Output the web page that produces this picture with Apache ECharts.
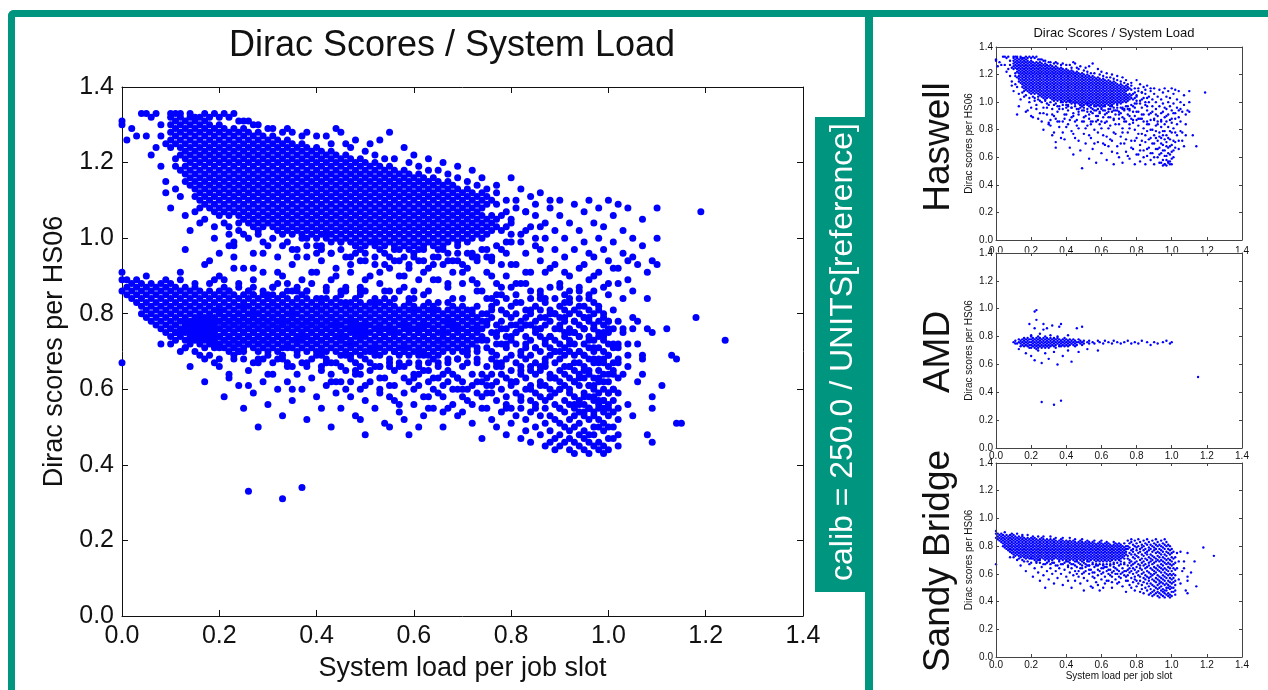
<!DOCTYPE html>
<html>
<head>
<meta charset="utf-8">
<script src="https://cdn.jsdelivr.net/npm/echarts@6.0.0/dist/echarts.min.js"></script>
<style>
  html, body { margin: 0; padding: 0; background: #fff; }
  #chart { width: 1268px; height: 690px; }
</style>
</head>
<body>
<div id="chart"></div>
<script>
// tick values shared by every axis (x and y)
const axisTicks = [0.0, 0.2, 0.4, 0.6, 0.8, 1.0, 1.2, 1.4];

// values are in hundredths; column rows are [x, y1, y2, ...], pair rows are [x, y]
const haswellCore = [
  [10,132,130,128,126,124],[11,133,131,129,127,125,121],[12,132,130,128,126,124,122,118],
  [13,131,129,127,125,123,121,119,115],[14,132,130,128,126,124,122,120,118,116,114],
  [15,131,129,127,125,123,121,119,117,115,113,111],[16,130,128,126,124,122,120,118,116,114,112,110],
  [17,131,129,127,125,123,121,119,117,115,113,111,109],[18,130,128,126,124,122,120,118,116,114,112,110,108],
  [19,129,127,125,123,121,119,117,115,113,111,109,107],[20,130,128,126,124,122,120,118,116,114,112,110,108,106],
  [21,129,127,125,123,121,119,117,115,113,111,109,107],[22,128,126,124,122,120,118,116,114,112,110,108,106],
  [23,129,127,125,123,121,119,117,115,113,111,109,107],[24,128,126,124,122,120,118,116,114,112,110,108,106,104],
  [25,129,127,125,123,121,119,117,115,113,111,109,107,105],[26,128,126,124,122,120,118,116,114,112,110,108,106,104],
  [27,127,125,123,121,119,117,115,113,111,109,107,105,103],[28,128,126,124,122,120,118,116,114,112,110,108,106,104],
  [29,127,125,123,121,119,117,115,113,111,109,107,105,103],[30,126,124,122,120,118,116,114,112,110,108,106,104],
  [31,127,125,123,121,119,117,115,113,111,109,107,105,103],[32,126,124,122,120,118,116,114,112,110,108,106,104,102],
  [33,125,123,121,119,117,115,113,111,109,107,105,103],[34,126,124,122,120,118,116,114,112,110,108,106,104,102],
  [35,125,123,121,119,117,115,113,111,109,107,105,103,101],[36,124,122,120,118,116,114,112,110,108,106,104,102],
  [37,125,123,121,119,117,115,113,111,109,107,105,103,101],[38,124,122,120,118,116,114,112,110,108,106,104,102,100],
  [39,123,121,119,117,115,113,111,109,107,105,103,101],[40,124,122,120,118,116,114,112,110,108,106,104,102,100],
  [41,123,121,119,117,115,113,111,109,107,105,103,101],[42,122,120,118,116,114,112,110,108,106,104,102,100],
  [43,123,121,119,117,115,113,111,109,107,105,103,101,99],[44,122,120,118,116,114,112,110,108,106,104,102,100],
  [45,121,119,117,115,113,111,109,107,105,103,101,99],[46,122,120,118,116,114,112,110,108,106,104,102,100],
  [47,121,119,117,115,113,111,109,107,105,103,101,99],[48,120,118,116,114,112,110,108,106,104,102,100,98],
  [49,121,119,117,115,113,111,109,107,105,103,101,99],[50,120,118,116,114,112,110,108,106,104,102,100,98],
  [51,119,117,115,113,111,109,107,105,103,101,99],[52,120,118,116,114,112,110,108,106,104,102,100,98],
  [53,119,117,115,113,111,109,107,105,103,101,99,97],[54,118,116,114,112,110,108,106,104,102,100,98],
  [55,119,117,115,113,111,109,107,105,103,101,99],[56,118,116,114,112,110,108,106,104,102,100,98],
  [57,117,115,113,111,109,107,105,103,101,99,97],[58,118,116,114,112,110,108,106,104,102,100,98],
  [59,117,115,113,111,109,107,105,103,101,99,97],[60,116,114,112,110,108,106,104,102,100,98],
  [61,117,115,113,111,109,107,105,103,101,99,97],[62,116,114,112,110,108,106,104,102,100,98],
  [63,115,113,111,109,107,105,103,101,99],[64,116,114,112,110,108,106,104,102,100,98],
  [65,115,113,111,109,107,105,103,101,99],[66,114,112,110,108,106,104,102,100,98],
  [67,115,113,111,109,107,105,103,101,99],[68,114,112,110,108,106,104,102,100],
  [69,113,111,109,107,105,103,101,99],[70,112,110,108,106,104,102,100],
  [71,113,111,109,107,105,103,101,99],[72,112,110,108,106,104,102,100],
  [73,111,109,107,105,103,101],[74,112,110,108,106,104,102,100],[75,111,109,105,103,101],
  [76,110,106,104,102],[77,109,105,103],[78,106,102],[79,107,103],[80,104]
];

const haswellScatter = [
  // above and left of the dense cloud
  [0,131],[0,130],[1,126],[2,129],[3,127],[4,133],[5,133],[6,132],[7,133],[6,122],[8,130],[8,127],[9,125],[9,112],
  [10,133],[11,119],[12,133],[12,91],[13,117],[14,133],[15,132],[16,108],[17,133],[18,132],[19,133],[21,133],[22,132],
  [23,133],[24,131],[26,131],[28,130],[31,129],[34,129],[38,128],[42,127],[44,129],[45,128],[48,126],[51,125],[53,126],
  [55,128],[58,124],[60,122],[63,121],[66,120],[69,119],[72,118],[74,116],[77,114],[80,116],[82,113],[84,111],[86,112],
  [88,110],[5,127],[7,124],[8,119],[9,115],[11,113],[12,111],[10,108],[13,106],[14,102],
  // ragged upper edge of the cloud
  [16,132],[20,132],[25,131],[27,130],[30,129],[33,128],[35,128],[37,127],[40,127],[43,125],[46,125],[47,124],
  [50,123],[52,122],[54,121],[56,121],[59,120],[61,119],[63,118],[65,118],[67,117],[69,116],[71,115],[73,114],
  [75,113],[77,112],[79,110],[81,108],[83,107],[85,106],
  // ragged lower edge of the cloud
  [15,107],[17,105],[19,103],[21,104],[22,101],[24,102],[26,100],[28,101],[29,99],[31,100],[33,98],[34,99],[36,97],
  [38,98],[40,96],[41,98],[43,96],[45,97],[47,95],[48,96],[50,94],[52,95],[54,93],[55,95],[57,94],[59,93],[60,95],
  [62,94],[64,93],[65,95],[67,94],[69,96],[70,93],[72,96],[73,95],[75,97],[76,94],[78,97],[79,99],[80,101],[82,99],
  [83,102],[85,100],[86,103],
  // between the two bands
  [13,97],[16,104],[17,93],[19,100],[20,96],[21,89],[22,103],[23,98],[25,92],[25,101],[26,86],[27,96],[28,102],[29,91],
  [30,98],[31,87],[32,95],[33,101],[33,90],[35,97],[35,93],[36,86],[37,100],[38,95],[39,91],[39,88],[40,98],[41,94],
  [42,101],[43,89],[43,96],[44,92],[45,99],[46,87],[46,95],[47,91],[48,98],[49,86],[49,94],[50,96],[51,90],[52,99],
  [52,93],[53,88],[54,96],[55,92],[55,86],[56,97],[57,90],[58,95],[58,87],[59,92],[60,96],[61,89],[61,94],[62,97],
  [63,86],[63,92],[64,95],[65,89],[65,97],[66,93],[67,87],[67,96],[68,91],[69,94],[69,98],[70,88],[71,92],[71,96],
  [72,89],[73,94],[74,97],[74,86],[75,91],[76,95],[77,88],[77,98],[78,93],[79,90],[79,96],
  [18,94],[20,90],[23,95],[24,88],[27,92],[29,96],[30,85],[32,91],[34,88],[36,95],[38,86],[40,91],[41,97],[44,90],
  [45,86],[47,93],[49,97],[50,89],[53,91],[54,86],[56,94],[58,90],[60,86],[62,91],[64,89],[66,97],[68,94],[70,91],
  [72,95],[73,88],[75,95],[76,90],[78,87],[80,93],[81,88],[83,91],[84,86],[86,97],[87,91],[88,87],[89,93],[91,91],
  [92,86],[94,92],[96,96],[97,90],[99,87],[101,92],[102,88],[104,94],
  // right of the cloud
  [80,99],[80,105],[81,110],[81,93],[82,101],[82,88],[83,107],[83,96],[84,91],[84,103],[85,109],[85,98],[86,94],
  [86,86],[87,104],[87,100],[88,108],[88,92],[89,97],[89,102],[90,88],[90,106],[90,110],[91,95],[91,100],[92,90],
  [92,104],[93,109],[93,97],[94,86],[94,102],[95,93],[95,107],[95,99],[96,110],[96,89],[97,104],[97,95],[98,100],
  [98,108],[98,91],[99,97],[99,103],[100,110],[100,88],[100,94],[101,106],[101,99],[102,92],[102,109],[103,96],
  [103,102],[104,89],[104,108],[105,95],[105,100],[106,93],[107,98],[107,105],[108,91],[109,94],[110,100],[110,108],
  [119,107],
  // lower tail
  [27,80],[30,84],[32,76],[34,71],[34,67],[36,82],[38,78],[39,73],[41,84],[42,67],[43,79],[44,62],[45,74],[47,81],
  [48,65],[49,52],[50,77],[51,70],[52,83],[53,59],[54,74],[55,66],[56,80],[57,56],[58,71],[59,84],[60,63],[61,76],
  [62,69],[63,58],[64,81],[65,73],[66,64],[67,55],[67,78],[68,84],[69,68],[70,60],[71,75],[72,81],[72,56],[73,70],
  [74,64],[75,78],[76,59],[76,84],[77,72],[78,66],[79,80],[79,55],[80,74],[81,62],[81,83],[82,69],[82,57],[83,77],
  [84,65],[84,81],[85,71],[85,55],[86,79],[86,61],[87,67],[87,84],[88,74],[88,58],[89,63],[89,80],[90,70],[90,55],
  [90,76],[91,66],[91,83],[92,60],[92,72],[93,78],[93,56],[93,67],[94,82],[94,63],[94,74],[95,58],[95,69],[95,79],
  [96,55],[96,65],[96,84],[97,71],[97,61],[97,76],[98,57],[98,67],[98,82],[99,62],[99,73],[99,55],[100,69],[100,78],
  [100,59],[101,65],[101,81],[102,71],[103,76],[104,66],[105,79],[106,72],[107,68],[108,76],[112,76],[110,93],
  [114,68],[94,56],[95,54],[96,55],[97,54],[98,56],[99,57],[100,55],[97,58],
  [31,83],[33,78],[35,86],[37,74],[40,82],[42,87],[44,77],[46,83],[47,72],[50,86],[51,81],[53,76],[54,84],[56,70],
  [57,86],[58,78],[60,81],[61,70],[62,85],[63,75],[64,68],[65,83],[66,72],[67,88],[68,77],[69,63],[70,84],[71,70],
  [72,78],[73,86],[74,73],[75,61],[76,81],[77,67],[78,85],[79,72],[80,62],[80,87],[81,77],[82,65],[83,72],[83,88],
  [84,60],[85,76],[86,66],[86,84],[87,73],[88,63],[88,80],[89,70],[90,87],[90,60],[91,74],[91,79],[92,66],[92,84],
  [93,62],[93,75],[94,70],[94,87],[95,65],[95,76],[96,61],[96,73],[96,79],[97,68],[97,86],[98,63],[98,74],[99,68],
  [99,79],[100,64],[100,85],[101,72],[101,60],[102,67],[102,78],[103,84],[104,72],[105,86],[106,78],[108,84]
];

const amdCore = [
  [10,76],[11,77,75],[12,75],[13,78,76],[14,77,75,73],[15,78,76,74],[16,79,77,75,73],[17,78,76,74],
  [18,79,77,75,73],[19,78,76,74,72],[20,80,78,76,74,72],[21,79,77,75,73],[22,78,76,74,72],[23,79,77,75,73,71],
  [24,80,78,76,74,72],[25,79,77,75,73],[26,78,76,74,72],[27,79,77,75,73],[28,80,78,76,74,72],[29,79,77,75,73],
  [30,78,76,74,72],[31,79,77,75,73],[32,78,76,74],[33,79,77,75,73],[34,78,76,74,72],[35,79,77,75],[36,78,76,74,73],
  [37,77,75,73],[38,78,76,74],[39,79,77,75,73],[40,78,76,74],[41,77,75,73],[42,78,76,74],[43,77,75],[44,78,76,74],
  [45,77,75,73],[46,76,74],[47,78,76],[48,77,75],[49,76,74],[50,77,75],[52,76],[53,77,75],[55,76],[56,75],[58,77],
  [59,76],[61,75],[62,77],[64,76],[66,75],[67,77],[69,76],[71,75],[73,76],[75,77],[77,75],[79,76],[81,75],[83,77],
  [86,76],[88,74],[90,76],[92,75],[95,76],[97,77],[99,75],[100,76]
];

const amdScatter = [
  [19,89],[22,98],[23,99],[23,92],[22,86],[27,89],[27,85],[29,86],[32,88],[36,87],[37,89],[46,86],[49,87],[20,81],
  [25,82],[31,81],[35,80],[41,81],[13,71],[17,68],[20,66],[22,63],[24,70],[26,61],[28,68],[30,64],[33,69],[35,60],
  [38,66],[41,70],[43,62],[47,69],[52,71],[58,70],[26,33],[33,31],[37,34],[115,51]
];

const sandyCore = [
  [0,91,89,86],[1,89,87,85],[2,88,86,84],[3,89,87,85,83],[4,88,86,84,82,80],[5,87,85,83,81,79],
  [6,88,86,84,82,80,78],[7,87,85,83,81,79,77],[8,88,86,84,82,80,78,76],[9,87,85,83,81,79,77,75],
  [10,88,86,84,82,80,78,76,74],[11,87,85,83,81,79,77,75,73],[12,86,84,82,80,78,76,74],
  [13,87,85,83,81,79,77,75,73],[14,86,84,82,80,78,76,74,72],[15,87,85,83,81,79,77,75,73],
  [16,86,84,82,80,78,76,74,72],[17,85,83,81,79,77,75,73,71],[18,86,84,82,80,78,76,74,72],
  [19,85,83,81,79,77,75,73,71],[20,86,84,82,80,78,76,74,72],[21,85,83,81,79,77,75,73,71],
  [22,86,84,82,80,78,76,74,72,70],[23,85,83,81,79,77,75,73,71],[24,84,82,80,78,76,74,72,70],
  [25,85,83,81,79,77,75,73,71],[26,86,84,82,80,78,76,74,72],[27,85,83,81,79,77,75,73,71],
  [28,84,82,80,78,76,74,72,70],[29,85,83,81,79,77,75,73,71],[30,84,82,80,78,76,74,72,70],
  [31,85,83,81,79,77,75,73,71],[32,84,82,80,78,76,74,72,70],[33,85,83,81,79,77,75,73,71],
  [34,84,82,80,78,76,74,72],[35,83,81,79,77,75,73,71],[36,84,82,80,78,76,74,72,70],
  [37,85,83,81,79,77,75,73,71],[38,84,82,80,78,76,74,72,70],[39,83,81,79,77,75,73,71],
  [40,84,82,80,78,76,74,72,70],[41,83,81,79,77,75,73,71,69],[42,84,82,80,78,76,74,72,70],
  [43,83,81,79,77,75,73,71],[44,84,82,80,78,76,74,72,70],[45,83,81,79,77,75,73,71,69],
  [46,82,80,78,76,74,72,70],[47,83,81,79,77,75,73,71],[48,84,82,80,78,76,74,72,70],
  [49,83,81,79,77,75,73,71,69],[50,82,80,78,76,74,72,70],[51,83,81,79,77,75,73,71],
  [52,82,80,78,76,74,72,70],[53,83,81,79,77,75,73,71,69],[54,82,80,78,76,74,72,70],
  [55,83,81,79,77,75,73,71],[56,82,80,78,76,74,72,70],[57,81,79,77,75,73,71,69],
  [58,82,80,78,76,74,72,70],[59,83,81,79,77,75,73,71],[60,82,80,78,76,74,72,70],
  [61,81,79,77,75,73,71,69],[62,82,80,78,76,74,72,70],[63,81,79,77,75,73,71],
  [64,82,80,78,76,74,72,70],[65,81,79,77,75,73,71,69],[66,80,78,76,74,72,70],
  [67,81,79,77,75,73,71],[68,82,80,78,76,74,72,70],[69,81,79,77,75,73,71],
  [70,80,78,76,74,72,70],[71,81,79,77,75,73,71],[72,80,78,76,74,72],[73,79,77,75,73,71],[74,80,78,76,74]
];

const sandyRight = [
  [75,84,80,78,73,71,66,63,59,55],[76,82,79,75,70,68,64,61,52],[77,85,83,77,74,69,66,62,57,50],
  [78,81,78,76,72,67,64,60,54],[79,84,80,74,71,68,63,58,56,48],[80,82,79,77,73,69,65,61,55,51],
  [81,85,80,75,72,67,62,59,53],[82,83,78,76,70,66,64,58,55,47],[83,81,79,74,71,68,63,60,52,49],
  [84,84,80,77,73,69,66,61,57,54,46],[85,82,78,75,71,67,64,59,56,50],[86,85,81,76,74,70,65,62,58,53,48],
  [87,83,79,77,72,68,66,61,57,55,51,45],[88,81,78,74,71,69,64,60,58,53,49,46],
  [89,84,80,76,73,70,67,63,59,56,52,47,44],[90,82,79,77,72,68,65,62,60,55,51,48,45],
  [91,85,81,78,75,71,69,64,61,57,54,50,46],[92,83,80,76,73,70,66,63,59,56,52,49,47,44],
  [93,81,78,75,72,69,65,62,58,55,53,50,46,43],[94,84,80,77,74,70,67,64,61,57,54,51,48,45],
  [95,82,79,76,72,69,66,63,59,56,53,49,47,44],[96,85,81,78,74,71,68,64,61,58,55,52,48,46,43],
  [97,83,80,76,73,70,67,63,60,57,53,50,48,45],[98,81,78,75,71,68,65,62,59,55,52,50,46,44],
  [99,80,77,74,70,67,64,60,57,54,51,49,45,43],[100,78,75,72,69,66,62,59,56,53,50,47,44],
  [101,76,71,67,64,60,57,54,50,47],[102,72,68,63,59,55,52,48,45]
];

const sandyScatter = [
  // ragged upper and lower edges of the band
  [5,90],[9,89],[12,89],[15,88],[18,88],[21,87],[24,87],[27,87],[31,87],[34,86],[38,86],[42,86],[45,85],[49,85],
  [52,84],[56,84],[60,84],[63,83],[67,83],[70,82],[73,82],
  [10,72],[13,71],[15,70],[18,69],[20,68],[23,69],[25,68],[27,67],[29,68],[31,67],[33,68],[35,66],[37,67],[39,68],
  [41,66],[43,67],[45,66],[47,68],[49,66],[51,67],[53,66],[55,67],[57,66],[59,67],[61,66],[63,67],[65,66],[67,67],
  [69,68],[71,67],[73,68],
  // below the band
  [0,67],[8,72],[12,70],[14,66],[16,69],[17,62],[19,67],[20,71],[21,58],[22,64],[23,68],[24,61],[25,55],[25,70],
  [26,65],[27,59],[28,50],[28,67],[29,62],[30,69],[30,56],[31,64],[32,60],[32,68],[33,53],[34,66],[34,62],[35,57],
  [36,69],[36,64],[37,60],[38,67],[38,52],[39,63],[40,58],[40,69],[41,65],[41,55],[42,61],[42,68],[43,50],[43,64],
  [44,59],[44,67],[45,62],[45,55],[46,69],[46,65],[47,58],[47,62],[48,67],[48,53],[49,64],[49,60],[50,68],[50,48],
  [50,57],[51,65],[51,62],[52,55],[52,69],[53,60],[53,66],[54,51],[54,63],[55,58],[55,68],[56,61],[56,65],[57,54],
  [57,67],[58,59],[58,63],[59,48],[59,69],[60,56],[60,64],[61,61],[61,67],[62,53],[62,58],[63,65],[63,69],[64,60],
  [64,55],[65,63],[65,67],[66,50],[66,58],[67,62],[67,68],[68,56],[68,64],[69,60],[69,53],[70,66],[70,62],[71,57],
  [71,69],[72,51],[72,64],[73,59],[73,67],[74,55],[74,62],[74,47],
  [46,60],[48,64],[50,61],[52,66],[53,63],[55,61],[56,57],[58,66],[59,62],[60,60],[61,64],[62,65],[63,62],[64,63],
  [65,59],[66,61],[67,65],[68,60],[69,63],[70,58],[71,60],[72,61],[73,62],[74,58],[66,54],[70,54],[63,55],[58,52],
  [55,50],[61,50],
  // right-hand tail
  [103,75],[103,64],[104,69],[104,56],[105,76],[105,53],[106,62],[107,69],[107,64],[108,48],[109,75],[109,58],
  [109,55],[109,46],[113,69],[114,51],[118,79],[124,73],[111,61]
];

const TEAL = '#00957f';
const BLUE = '#0000ff';
const FONT = '"Liberation Sans", Arial, Helvetica, sans-serif';

const fromCols = cols => cols.flatMap(([x, ...ys]) => ys.map(y => [x / 100, y / 100]));
const fromPairs = pairs => pairs.map(([x, y]) => [x / 100, y / 100]);

const haswellPts = fromCols(haswellCore).concat(fromPairs(haswellScatter));
const amdPts = fromCols(amdCore).concat(fromPairs(amdScatter));
const sandyPts = fromCols(sandyCore).concat(fromCols(sandyRight), fromPairs(sandyScatter));
const allPts = haswellPts.concat(amdPts, sandyPts);

// main plot + three small panels (Haswell, AMD, Sandy Bridge)
const grids = [
  { left: 122, top: 87, width: 681, height: 529 },
  { left: 996, top: 47, width: 246, height: 193 },
  { left: 996, top: 253, width: 246, height: 195 },
  { left: 996, top: 463, width: 246, height: 194 }
];
const panelData = [allPts, haswellPts, amdPts, sandyPts];

const xAxes = [];
const yAxes = [];
grids.forEach((g, i) => {
  const big = i === 0;
  const fs = big ? 25 : 10;
  const z = i >= 2 ? 3 : 0;
  const base = {
    type: 'value', gridIndex: i, z,
    min: axisTicks[0], max: axisTicks[axisTicks.length - 1], interval: 0.2,
    splitLine: { show: false },
    axisLine: { show: true, onZero: false, lineStyle: { color: big ? '#111' : '#444', width: 1 } },
    axisTick: { show: true, inside: true, length: big ? 6 : 3, lineStyle: { color: big ? '#111' : '#444' } }
  };
  const label = (margin) => ({
    show: true, fontSize: fs, color: '#111', fontFamily: FONT, margin,
    formatter: v => v.toFixed(1)
  });
  const nameStyle = { fontSize: big ? 27 : 10, color: '#111', fontFamily: FONT };
  const bottom = { ...base, position: 'bottom', axisLabel: label(big ? 8 : (i === 1 ? 6 : 3)) };
  if (big || i === 3) {
    Object.assign(bottom, {
      name: 'System load per job slot', nameLocation: 'middle',
      nameGap: big ? 39 : 14, nameTextStyle: nameStyle
    });
  }
  xAxes.push(bottom);
  xAxes.push({ ...base, position: 'top', axisLabel: { show: false } });
  yAxes.push({
    ...base, position: 'left', axisLabel: label(big ? 8 : 3),
    name: 'Dirac scores per HS06', nameLocation: 'middle', nameRotate: 90,
    nameGap: big ? 47 : 22, nameTextStyle: nameStyle
  });
  yAxes.push({ ...base, position: 'right', axisLabel: { show: false } });
});

const series = panelData.map((pts, i) => ({
  type: 'scatter',
  xAxisIndex: i * 2,
  yAxisIndex: i * 2,
  data: pts,
  symbol: 'circle',
  symbolSize: i === 0 ? 7 : 2.4,
  itemStyle: { color: BLUE, opacity: 1 },
  progressive: 0,
  silent: true
}));

const rotText = (text, x, y, size, color) => ({
  type: 'text', x, y, rotation: Math.PI / 2, z: 5,
  style: { text, fill: color, fontSize: size, fontFamily: FONT, align: 'center', verticalAlign: 'middle' }
});

const chart = echarts.init(document.getElementById('chart'));
chart.setOption({
  animation: false,
  backgroundColor: '#fff',
  grid: grids,
  xAxis: xAxes,
  yAxis: yAxes,
  series,
  graphic: [
    { type: 'rect', z: 5, shape: { x: 8, y: 10, width: 1260, height: 7, r: [6, 0, 0, 0] }, style: { fill: TEAL } },
    { type: 'rect', z: 5, shape: { x: 8, y: 10, width: 7, height: 680, r: [6, 0, 0, 0] }, style: { fill: TEAL } },
    { type: 'rect', z: 5, shape: { x: 865, y: 10, width: 8, height: 680 }, style: { fill: TEAL } },
    { type: 'rect', z: 5, shape: { x: 815, y: 117, width: 58, height: 475 }, style: { fill: TEAL } },
    // hides the lower edge of the Haswell tick labels, as the overlapping panels do in the original
    { type: 'rect', z: 1, shape: { x: 990, y: 252.5, width: 252, height: 9 }, style: { fill: '#fff' } },
    rotText('calib = 250.0 / UNITS[reference]', 843, 352, 32, '#fff'),
    rotText('Haswell', 939, 147, 37, '#111'),
    rotText('AMD', 939, 352, 37, '#111'),
    rotText('Sandy Bridge', 939, 561, 37, '#111'),
    {
      type: 'text', x: 452, y: 46, z: 5,
      style: { text: 'Dirac Scores / System Load', fill: '#111', fontSize: 36, fontFamily: FONT, align: 'center', verticalAlign: 'middle' }
    },
    {
      type: 'text', x: 1114, y: 33, z: 5,
      style: { text: 'Dirac Scores / System Load', fill: '#111', fontSize: 13, fontFamily: FONT, align: 'center', verticalAlign: 'middle' }
    }
  ]
});
</script>
</body>
</html>
